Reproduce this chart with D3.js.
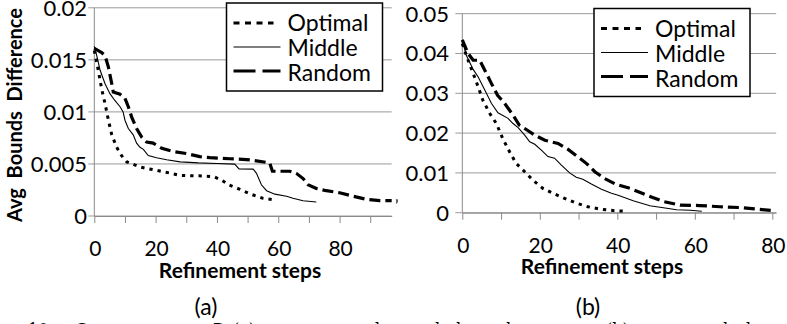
<!DOCTYPE html>
<html>
<head>
<meta charset="utf-8">
<script src="https://cdn.jsdelivr.net/npm/d3@7"></script>
<style>
  body { margin: 0; background: #fff; }
  text { font-family: Lato, "Open Sans", sans-serif; fill: #000; }
</style>
</head>
<body>
<script>
// ---- data ----
var seriesNames = ["Optimal", "Middle", "Random"];

var optimalAx = [0, 1.3, 2.4, 3.5, 4.6, 5.7, 7.3, 8.9, 10.6, 15, 20, 25, 28, 34, 39, 41.5, 44, 47.5, 51, 55, 59];
var optimalAy = [0.0159, 0.0140, 0.0122, 0.0108, 0.0092, 0.0078, 0.0066, 0.0058, 0.0052, 0.0047, 0.0044, 0.0041, 0.0039, 0.00386, 0.00377, 0.00345, 0.00297, 0.00256, 0.0021, 0.0017, 0.00153];
var middleAx = [0, 0.8, 1.9, 3.5, 5.1, 6.7, 8.4, 9.4, 10, 11.1, 12.7, 13.8, 14.9, 16, 17.6, 20.3, 23.6, 28, 34, 40, 45.8, 47.2, 51.8, 52.9, 54.5, 56.2, 58.9, 62.7, 64.8, 68.1, 72.4];
var middleAy = [0.0163, 0.0154, 0.0140, 0.0127, 0.01175, 0.0111, 0.0105, 0.0100, 0.0092, 0.0084, 0.0078, 0.0070, 0.0066, 0.0064, 0.0058, 0.0056, 0.0054, 0.0052, 0.0051, 0.00505, 0.00498, 0.00453, 0.0045, 0.0041, 0.0030, 0.00243, 0.0021, 0.0019, 0.0017, 0.00147, 0.00134];
var randomAx = [0, 2.4, 3.5, 4.6, 5.7, 6.2, 8.4, 10, 11.1, 12.2, 13.8, 15.4, 17.1, 19.2, 22, 25.7, 30, 34.4, 37.7, 44.2, 50.7, 57.2, 58.1, 63.7, 65.9, 68.1, 69.7, 72.4, 75.7, 80, 84.4, 88.7, 93.1, 97];
var randomAy = [0.0161, 0.0157, 0.0154, 0.0143, 0.0127, 0.0119, 0.0117, 0.0113, 0.0105, 0.0095, 0.0084, 0.0076, 0.0071, 0.0070, 0.0065, 0.0062, 0.0060, 0.0057, 0.0056, 0.0055, 0.0054, 0.0051, 0.0043, 0.0043, 0.0041, 0.0036, 0.0030, 0.00265, 0.00243, 0.00223, 0.0019, 0.0016, 0.00147, 0.00147];

var optimalBx = [0, 1.5, 2.8, 4.1, 5.3, 7.1, 8.8, 10.4, 12.2, 13.9, 16.1, 18.2, 20.8, 23.8, 26.4, 29.4, 32.4, 35.9, 39.3, 42];
var optimalBy = [0.0425, 0.0383, 0.035, 0.0316, 0.0283, 0.0249, 0.0224, 0.0187, 0.0153, 0.0124, 0.0103, 0.0082, 0.0061, 0.0047, 0.0036, 0.0024, 0.0015, 0.00085, 0.0005, 0.0004];
var middleBx = [0, 1.0, 2.8, 4.1, 5.8, 7.5, 9.2, 11.8, 13.1, 14.4, 16.1, 17.4, 18.7, 20.4, 22.1, 23.8, 25.5, 27.7, 29.4, 31.1, 33.3, 35.9, 38.5, 40.2, 44.1, 48.4, 51.9, 55.3, 58.8, 61.8];
var middleBy = [0.0434, 0.0396, 0.036, 0.0341, 0.0308, 0.0275, 0.0251, 0.0237, 0.0224, 0.0214, 0.0195, 0.0178, 0.0172, 0.0157, 0.0141, 0.0137, 0.012, 0.010, 0.0089, 0.0084, 0.0072, 0.0059, 0.0049, 0.0044, 0.003, 0.00176, 0.00126, 0.00075, 0.0006, 0.00035];
var randomBx = [0, 1.5, 2.8, 4.5, 5.8, 7.5, 9.1, 10.9, 13.1, 14.7, 16.5, 18.7, 21.3, 24.7, 27.3, 30.3, 32, 34.2, 36.7, 39.5, 43.3, 47.6, 51.9, 56.2, 61.3, 66.5, 71.6, 76, 80.3];
var randomBy = [0.0434, 0.040, 0.0383, 0.0383, 0.0358, 0.0325, 0.0295, 0.0275, 0.0245, 0.022, 0.0209, 0.0195, 0.0182, 0.0174, 0.0159, 0.0137, 0.0124, 0.0103, 0.0086, 0.0072, 0.0061, 0.0044, 0.0028, 0.0019, 0.0018, 0.0015, 0.0013, 0.0009, 0.0005];

var yTicksA = [0, 0.005, 0.01, 0.015, 0.02];
var yLabelsA = ["0", "0.005", "0.01", "0.015", "0.02"];
var yTicksB = [0, 0.01, 0.02, 0.03, 0.04, 0.05];
var yLabelsB = ["0", "0.01", "0.02", "0.03", "0.04", "0.05"];
var xLabels = [0, 20, 40, 60, 80];

var W = 787, H = 324;

var svg = d3.select("body").append("svg")
    .attr("width", W)
    .attr("height", H);

var styles = {
  Optimal: { width: 3, dash: "3.3,5" },
  Middle:  { width: 1.1, dash: null },
  Random:  { width: 3.2, dash: "11,5" }
};

function zip(xs, ys) {
  return xs.map(function(x, i) { return [x, ys[i]]; });
}

function drawChart(cfg) {
  var x = d3.scaleLinear().domain(cfg.xDomain).range(cfg.xRange);
  var y = d3.scaleLinear().domain(cfg.yDomain).range(cfg.yRange);
  var g = svg.append("g");

  // gridlines + y ticks
  g.selectAll(".grid").data(cfg.yTicks).enter().append("line")
      .attr("x1", cfg.xRange[0] - cfg.yTick).attr("x2", cfg.xRange[1])
      .attr("y1", function(d) { return y(d); }).attr("y2", function(d) { return y(d); })
      .attr("stroke", "#9a9a9a").attr("stroke-width", 1);

  // y axis line
  g.append("line")
      .attr("x1", cfg.xRange[0]).attr("x2", cfg.xRange[0])
      .attr("y1", y(cfg.yDomain[1])).attr("y2", y(0))
      .attr("stroke", "#8a8a8a");

  // x axis with tick every 10
  var xAxis = d3.axisBottom(x)
      .tickValues(d3.range(0, cfg.xDomain[1] + 0.01, 10))
      .tickSize(7)
      .tickSizeOuter(0)
      .tickFormat("");
  var ax = g.append("g").attr("transform", "translate(0," + y(0) + ")").call(xAxis);
  ax.select(".domain").attr("stroke", "#8a8a8a");
  ax.selectAll(".tick line").attr("stroke", "#8a8a8a");

  // x tick labels
  g.selectAll(".xl").data(xLabels).enter().append("text")
      .attr("x", function(d) { return x(d) + 1; })
      .attr("y", cfg.xLabelY)
      .attr("text-anchor", "middle")
      .style("font-size", "21px")
      .text(function(d) { return d; });

  // y tick labels
  g.selectAll(".yl").data(cfg.yTicks).enter().append("text")
      .attr("x", cfg.yLabelX)
      .attr("y", function(d) { return y(d); })
      .attr("dy", "0.36em")
      .attr("text-anchor", "end")
      .style("font-size", "22px")
      .text(function(d, i) { return cfg.yLabels[i]; });

  // series
  var line = d3.line()
      .x(function(d) { return x(d[0]); })
      .y(function(d) { return y(d[1]); });

  cfg.series.forEach(function(s) {
    g.append("path")
        .datum(s.points)
        .attr("d", line)
        .attr("fill", "none")
        .attr("stroke", "#000")
        .attr("stroke-width", styles[s.name].width)
        .attr("stroke-dasharray", styles[s.name].dash);
  });

  // axis title
  g.append("text")
      .attr("x", cfg.titleX)
      .attr("y", cfg.titleY)
      .attr("text-anchor", "middle")
      .style("font-size", "21px")
      .style("font-weight", "bold")
      .text("Refinement steps");

  g.append("text")
      .attr("x", cfg.subX)
      .attr("y", 315)
      .attr("text-anchor", "middle")
      .style("font-size", "23px")
      .text(cfg.sub);

  // legend
  var lg = g.append("g").attr("transform", "translate(" + cfg.legend[0] + "," + cfg.legend[1] + ")");
  lg.append("rect")
      .attr("width", 156).attr("height", 88)
      .attr("fill", "#fff").attr("stroke", "#000").attr("stroke-width", 1.5);
  var legendDash = { Optimal: "6,5.5", Middle: null, Random: "22,7" };
  var legendW = { Optimal: 3, Middle: 1.1, Random: 3.2 };
  seriesNames.forEach(function(n, i) {
    lg.append("line")
        .attr("x1", 7).attr("x2", i == 0 ? 47 : 54)
        .attr("y1", 20 + i * 24).attr("y2", 20 + i * 24)
        .attr("stroke", "#000")
        .attr("stroke-width", legendW[n])
        .attr("stroke-dasharray", legendDash[n]);
    lg.append("text")
        .attr("x", 61).attr("y", 28 + i * 25)
        .style("font-size", "23px")
        .text(n);
  });
}

drawChart({
  xDomain: [0, 97], xRange: [94.3, 391.7],
  yDomain: [0, 0.02], yRange: [216, 7.8],
  yTicks: yTicksA, yLabels: yLabelsA, yTick: 6,
  yLabelX: 87, xLabelY: 256, titleX: 240, titleY: 278,
  subX: 206, sub: "(a)", legend: [226.5, 3],
  series: [
    { name: "Optimal", points: zip(optimalAx, optimalAy) },
    { name: "Middle", points: zip(middleAx, middleAy) },
    { name: "Random", points: zip(randomAx, randomAy) }
  ]
});

drawChart({
  xDomain: [0, 81], xRange: [462.3, 776.2],
  yDomain: [0, 0.05], yRange: [212.7, 13.7],
  yTicks: yTicksB, yLabels: yLabelsB, yTick: 7,
  yLabelX: 449, xLabelY: 253, titleX: 602, titleY: 274,
  subX: 588, sub: "(b)", legend: [594, 8.5],
  series: [
    { name: "Optimal", points: zip(optimalBx, optimalBy) },
    { name: "Middle", points: zip(middleBx, middleBy) },
    { name: "Random", points: zip(randomBx, randomBy) }
  ]
});

// y axis title of (a)
svg.append("text")
    .attr("transform", "translate(22,115) rotate(-90)")
    .attr("text-anchor", "middle")
    .style("font-size", "20px")
    .style("font-weight", "bold")
    .style("white-space", "pre")
    .text("Avg  Bounds  Difference");

// stray mark between the panels
svg.append("text")
    .attr("x", 395).attr("y", 211)
    .style("font-size", "16px")
    .text("’");

// tops of the cut-off caption line
var captionBits = [[28, "10:"], [75, "C"], [213, "D"], [233, "(a)"], [375, "l"], [430, "d"], [451, "d"], [501, "d"], [606, "(b)"], [718, "d"], [746, "l"]];
svg.selectAll(".cap").data(captionBits).enter().append("text")
    .attr("x", function(d) { return d[0]; })
    .attr("y", 335)
    .style("font-family", "'DejaVu Serif', 'Liberation Serif', serif")
    .style("font-size", "16px")
    .text(function(d) { return d[1]; });
</script>
</body>
</html>
